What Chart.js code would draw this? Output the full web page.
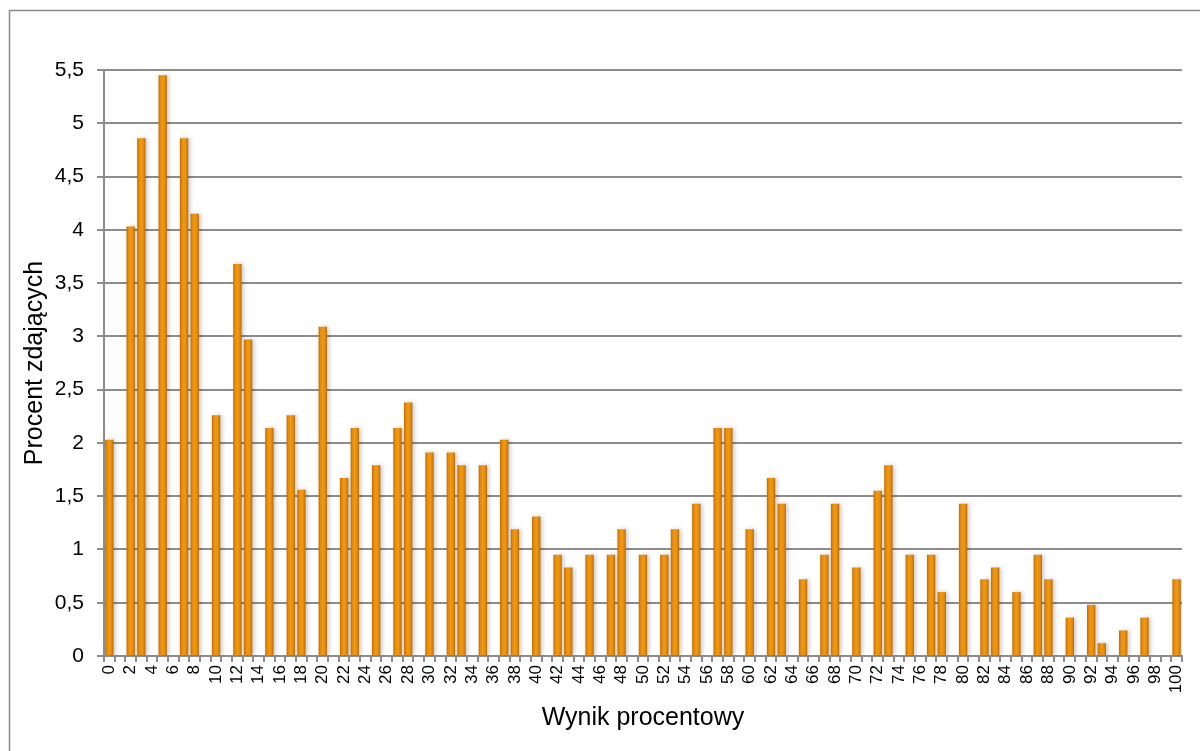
<!DOCTYPE html>
<html lang="pl">
<head>
<meta charset="utf-8">
<title>Wynik procentowy</title>
<script src="https://cdn.jsdelivr.net/npm/chart.js@4.4.1/dist/chart.umd.min.js"></script>
<style>
    html, body { margin: 0; padding: 0; background: #fff; }
    #wrap { width: 1200px; height: 751px; position: relative; }
</style>
</head>
<body>
<div id="wrap"><canvas id="histChart"></canvas></div>
<script>
// Score categories (percent result)
const categories = [
    0, 1, 2, 3, 4, 5, 6, 7, 8, 9,
    10, 11, 12, 13, 14, 15, 16, 17, 18, 19,
    20, 21, 22, 23, 24, 25, 26, 27, 28, 29,
    30, 31, 32, 33, 34, 35, 36, 37, 38, 39,
    40, 41, 42, 43, 44, 45, 46, 47, 48, 49,
    50, 51, 52, 53, 54, 55, 56, 57, 58, 59,
    60, 61, 62, 63, 64, 65, 66, 67, 68, 69,
    70, 71, 72, 73, 74, 75, 76, 77, 78, 79,
    80, 81, 82, 83, 84, 85, 86, 87, 88, 89,
    90, 91, 92, 93, 94, 95, 96, 97, 98, 99,
    100
];

// Percent of candidates for each score
const percentValues = [
    2.03, 0, 4.03, 4.86, 0, 5.45, 0, 4.86, 4.15, 0,
    2.26, 0, 3.68, 2.97, 0, 2.14, 0, 2.26, 1.56, 0,
    3.09, 0, 1.67, 2.14, 0, 1.79, 0, 2.14, 2.38, 0,
    1.91, 0, 1.91, 1.79, 0, 1.79, 0, 2.03, 1.19, 0,
    1.31, 0, 0.95, 0.83, 0, 0.95, 0, 0.95, 1.19, 0,
    0.95, 0, 0.95, 1.19, 0, 1.43, 0, 2.14, 2.14, 0,
    1.19, 0, 1.67, 1.43, 0, 0.72, 0, 0.95, 1.43, 0,
    0.83, 0, 1.55, 1.79, 0, 0.95, 0, 0.95, 0.60, 0,
    1.43, 0, 0.72, 0.83, 0, 0.60, 0, 0.95, 0.72, 0,
    0.36, 0, 0.48, 0.12, 0, 0.24, 0, 0.36, 0, 0,
    0.72
];

const yTicks = { min: 0, max: 5.5, step: 0.5 };

const axisTitleY = 'Procent zdających';
const axisTitleX = 'Wynik procentowy';

const FONT = '"Liberation Sans", Arial, sans-serif';
const GRID = '#8c8c8c';

// Orange bar with darker sides, like the Excel bevel
function barFill(c) {
    const chart = c.chart;
    if (c.type !== 'data' || !chart.chartArea) return '#E8900C';
    const x = chart.scales.x.getPixelForValue(c.dataIndex);
    const g = chart.ctx.createLinearGradient(x - 4.5, 0, x + 4.5, 0);
    g.addColorStop(0, '#B86800');
    g.addColorStop(0.25, '#E68A0A');
    g.addColorStop(0.5, '#F29A14');
    g.addColorStop(0.8, '#E0850A');
    g.addColorStop(1, '#A65E00');
    return g;
}

const barShadow = {
    id: 'barShadow',
    beforeDatasetsDraw(chart) {
        const ctx = chart.ctx;
        ctx.save();
        ctx.shadowColor = 'rgba(0, 0, 0, 0.22)';
        ctx.shadowBlur = 4;
        ctx.shadowOffsetX = 2;
        ctx.shadowOffsetY = 0;
    },
    afterDatasetsDraw(chart) {
        chart.ctx.restore();
    }
};

const outerFrame = {
    id: 'outerFrame',
    afterDraw(chart) {
        const ctx = chart.ctx;
        ctx.save();
        ctx.strokeStyle = '#8a8a8a';
        ctx.lineWidth = 1.5;
        ctx.strokeRect(9.5, 10.5, 1400, 1000);
        ctx.restore();
    }
};

const ctx = document.getElementById('histChart').getContext('2d');

new Chart(ctx, {
    type: 'bar',
    data: {
        labels: categories,
        datasets: [{
            label: axisTitleY,
            data: percentValues,
            backgroundColor: barFill,
            borderWidth: 0,
            categoryPercentage: 1,
            barPercentage: 0.78
        }]
    },
    options: {
        responsive: true,
        maintainAspectRatio: false,
        animation: false,
        layout: {
            padding: { top: 70, right: 12, bottom: 0, left: 0 }
        },
        plugins: {
            legend: { display: false },
            tooltip: { enabled: false }
        },
        scales: {
            x: {
                afterFit: (scale) => { scale.height = 95; },
                grid: {
                    display: true,
                    drawOnChartArea: false,
                    drawTicks: true,
                    tickLength: 6,
                    color: GRID,
                    lineWidth: 2
                },
                border: { color: GRID, width: 2 },
                ticks: {
                    autoSkip: false,
                    minRotation: 90,
                    maxRotation: 90,
                    padding: 3,
                    color: '#000',
                    font: { family: FONT, size: 17 },
                    callback: function (value, index) {
                        return categories[index] % 2 === 0 ? String(categories[index]) : '';
                    }
                },
                title: {
                    display: true,
                    text: axisTitleX,
                    color: '#000',
                    font: { family: FONT, size: 25 },
                    padding: { top: 0, bottom: 18 }
                }
            },
            y: {
                min: yTicks.min,
                max: yTicks.max,
                afterFit: (scale) => { scale.width = 104; },
                grid: {
                    color: GRID,
                    lineWidth: 2,
                    tickLength: 7
                },
                border: { color: GRID, width: 2 },
                ticks: {
                    stepSize: yTicks.step,
                    padding: 13,
                    color: '#000',
                    font: { family: FONT, size: 21 },
                    callback: function (value) {
                        return String(value).replace('.', ',');
                    }
                },
                title: {
                    display: true,
                    text: axisTitleY,
                    color: '#000',
                    font: { family: FONT, size: 25 },
                    padding: { top: 20, bottom: 0 }
                }
            }
        }
    },
    plugins: [barShadow, outerFrame]
});
</script>
</body>
</html>
